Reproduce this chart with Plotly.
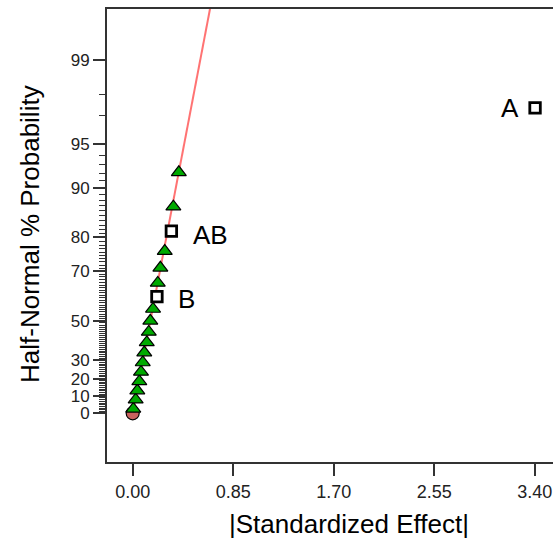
import plotly.graph_objects as go
from statistics import NormalDist

# ---- data ----
tri_effect = [0.005, 0.025, 0.039, 0.056, 0.070, 0.085, 0.098, 0.119, 0.136,
              0.149, 0.172, 0.212, 0.234, 0.271, 0.344, 0.390]
tri_prob = [2.6, 7.9, 13.2, 18.4, 23.7, 28.9, 34.2, 39.5, 44.7,
            50.0, 55.3, 65.8, 71.1, 76.3, 86.8, 92.1]

sq_labels = ["B", "AB", "A"]
sq_effect = [0.205, 0.327, 3.403]
sq_prob = [60.5, 81.6, 97.4]

circ_effect = [0.0]
circ_prob = [0.0]

fit_effect = [0.0, 0.70]
fit_prob = [0.0, 99.84]

x_tick_vals = [0.0, 0.85, 1.70, 2.55, 3.40]
x_tick_text = ["0.00", "0.85", "1.70", "2.55", "3.40"]
y_major_prob = [0, 10, 20, 30, 50, 70, 80, 90, 95, 99]
y_minor_prob = [p for p in range(1, 95) if p not in y_major_prob] + [97, 98]

ND = NormalDist()


def hn(p):
    """half-normal probability scale"""
    return ND.inv_cdf(0.5 + p / 200.0)


def hn_list(ps):
    return [hn(p) for p in ps]


FONT = "Arial, Liberation Sans, sans-serif"

fig = go.Figure()

fig.add_trace(go.Scatter(
    x=fit_effect, y=hn_list(fit_prob), mode="lines",
    line=dict(color="#ff7373", width=2), hoverinfo="skip", showlegend=False))

fig.add_trace(go.Scatter(
    x=circ_effect, y=hn_list(circ_prob), mode="markers",
    marker=dict(symbol="circle", size=13, color="#c8625e",
                line=dict(color="#000000", width=1.2)), showlegend=False))

fig.add_trace(go.Scatter(
    x=tri_effect, y=hn_list(tri_prob), mode="markers",
    marker=dict(symbol="triangle-up", size=13, color="#00aa00",
                line=dict(color="#000000", width=1.2)), showlegend=False))

fig.add_trace(go.Scatter(
    x=sq_effect, y=hn_list(sq_prob), mode="markers",
    marker=dict(symbol="square", size=10.5, color="#ffffff",
                line=dict(color="#000000", width=2.8)), showlegend=False))

label_pos = {"B": ("left", 19, -2), "AB": ("left", 20, -4), "A": ("right", -14, 0)}
for lab, xe, pr in zip(sq_labels, sq_effect, sq_prob):
    anchor, xs, ys = label_pos[lab]
    fig.add_annotation(x=xe, y=hn(pr), text=lab, showarrow=False,
                       xanchor=anchor, yanchor="middle", xshift=xs, yshift=ys,
                       font=dict(family=FONT, size=26, color="#000000"))

# axis titles
fig.add_annotation(xref="paper", yref="paper", x=(349 - 107) / 446, y=-62 / 453,
                   text="|Standardized Effect|", showarrow=False,
                   xanchor="center", yanchor="middle",
                   font=dict(family=FONT, size=26, color="#000000"))
fig.add_annotation(xref="paper", yref="paper", x=-77 / 446, y=(462 - 234) / 453,
                   text="Half-Normal % Probability", showarrow=False, textangle=-90,
                   xanchor="center", yanchor="middle",
                   font=dict(family=FONT, size=26, color="#000000"))

fig.update_layout(
    width=553, height=540,
    margin=dict(l=107, r=0, t=9, b=78),
    paper_bgcolor="#ffffff", plot_bgcolor="#ffffff",
    font=dict(family=FONT, color="#000000"),
    showlegend=False,
)

fig.update_xaxes(
    range=[-0.2174, 3.5547], showgrid=False, zeroline=False,
    showline=True, linecolor="#333333", linewidth=2, mirror=True,
    tickmode="array", tickvals=x_tick_vals, ticktext=x_tick_text,
    ticks="outside", ticklen=12, tickwidth=2, tickcolor="#333333",
    tickfont=dict(family=FONT, size=18, color="#222222"),
)

fig.update_yaxes(
    range=[-0.3547, 2.9468], showgrid=False, zeroline=False,
    showline=True, linecolor="#333333", linewidth=2, mirror=False,
    tickmode="array", tickvals=hn_list(y_major_prob),
    ticktext=[str(p) for p in y_major_prob],
    ticks="outside", ticklen=12, tickwidth=1.5, tickcolor="#333333",
    tickfont=dict(family=FONT, size=17, color="#222222"),
    minor=dict(tickmode="array", tickvals=hn_list(y_minor_prob),
               ticks="outside", ticklen=6, tickwidth=1, tickcolor="#333333",
               showgrid=False),
)

fig.write_html("out.html")
